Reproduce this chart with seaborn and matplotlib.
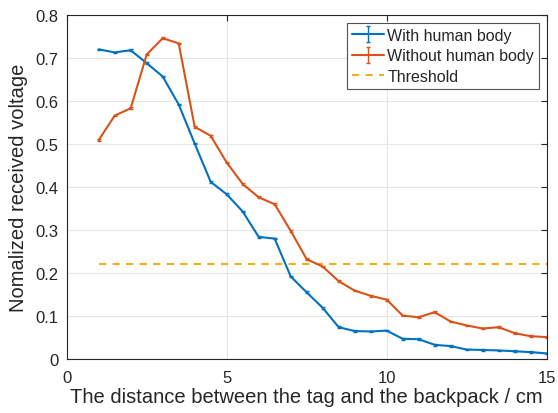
import numpy as np
import matplotlib
matplotlib.use("Agg")
import matplotlib.pyplot as plt
import seaborn as sns

# distance (cm)
distance = [1, 1.5, 2, 2.5, 3, 3.5, 4, 4.5, 5, 5.5, 6, 6.5, 7, 7.5, 8, 8.5,
            9, 9.5, 10, 10.5, 11, 11.5, 12, 12.5, 13, 13.5, 14, 14.5, 15]

with_body = [0.720, 0.713, 0.718, 0.688, 0.657, 0.592, 0.501, 0.412, 0.383,
             0.343, 0.284, 0.280, 0.192, 0.155, 0.119, 0.074, 0.065, 0.064,
             0.066, 0.047, 0.046, 0.033, 0.030, 0.022, 0.021, 0.020, 0.018,
             0.016, 0.013]

without_body = [0.509, 0.566, 0.583, 0.708, 0.746, 0.734, 0.540, 0.519, 0.457,
                0.407, 0.376, 0.360, 0.298, 0.232, 0.215, 0.181, 0.159, 0.147,
                0.138, 0.101, 0.097, 0.109, 0.087, 0.078, 0.071, 0.074, 0.060,
                0.053, 0.051]

err = 0.002
threshold = 0.22
threshold_x = [1, 15]

sns.set_style("whitegrid")
plt.rcParams['font.family'] = ['Liberation Sans', 'DejaVu Sans']

fig = plt.figure(figsize=(5.58, 4.14), dpi=100)
ax = fig.add_axes([0.1195, 0.1304, 0.8602, 0.831])

blue = "#0072BD"
orange = "#D95319"
yellow = "#EDB120"

ax.errorbar(distance, with_body, yerr=err, color=blue, lw=1.5, capsize=1.5,
            elinewidth=1, label="With human body")
ax.errorbar(distance, without_body, yerr=err, color=orange, lw=1.5, capsize=1.5,
            elinewidth=1, label="Without human body")
sns.lineplot(x=threshold_x, y=[threshold] * 2, ax=ax, color=yellow, lw=1.5,
             linestyle=(0, (3.5, 3)), label="Threshold")

ax.set_xlim(0, 15)
ax.set_ylim(0, 0.8)
ax.set_xticks([0, 5, 10, 15])
ax.set_yticks(np.arange(0, 0.81, 0.1))
ax.set_yticklabels(["0", "0.1", "0.2", "0.3", "0.4", "0.5", "0.6", "0.7", "0.8"])
ax.tick_params(direction="in", top=True, right=True, labelsize=12, length=4,
               color="#262626", labelcolor="#262626")
ax.tick_params(axis="x", pad=8)
ax.tick_params(axis="y", pad=6)
ax.grid(True, color="#e6e6e6", lw=0.8)
for s in ax.spines.values():
    s.set_color("#262626")
    s.set_linewidth(0.8)

ax.set_xlabel("The distance between the tag and the backpack / cm", fontsize=14.5,
              color="#262626", labelpad=1)
ax.set_ylabel("Nomalized received voltage", fontsize=14.5, color="#262626",
              labelpad=5)

handles, labels = ax.get_legend_handles_labels()
order = [labels.index(l) for l in ["With human body", "Without human body", "Threshold"]]
leg = ax.legend([handles[i] for i in order], [labels[i] for i in order],
                loc="upper right", fontsize=11.5, frameon=True, fancybox=False,
                edgecolor="#262626", borderpad=0.3, handlelength=2,
                handletextpad=0.2, labelspacing=0.35, borderaxespad=0.5)
leg.get_frame().set_linewidth(0.8)

fig.savefig("out.png", dpi=100)
